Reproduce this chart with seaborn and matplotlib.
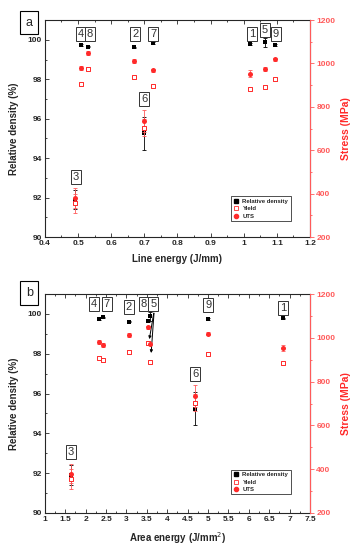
import numpy as np
import pandas as pd
import matplotlib
matplotlib.use("Agg")
import matplotlib.pyplot as plt
from matplotlib.ticker import MultipleLocator, FuncFormatter
from matplotlib.lines import Line2D
import seaborn as sns

# sample data (samples 1..9)
samples = ["1", "2", "3", "4", "5", "6", "7", "8", "9"]
line_energy = [1.02, 0.67, 0.49, 0.51, 1.065, 0.70, 0.725, 0.53, 1.095]
area_energy = [6.83, 3.06, 1.64, 2.33, 3.58, 4.68, 2.43, 3.53, 5.00]
rel_density = [99.78, 99.62, 91.9, 99.75, 99.88, 95.25, 99.83, 99.65, 99.75]
rel_density_err = [0.04, 0.04, 0.5, 0.04, 0.22, 0.85, 0.04, 0.04, 0.04]
yield_stress = [883, 936, 355, 907, 890, 704, 897, 976, 927]
yield_err = [5, 8, 45, 5, 5, 40, 5, 8, 8]
uts = [953, 1012, 380, 980, 974, 735, 968, 1048, 1019]
uts_err = [15, 10, 45, 8, 8, 50, 8, 8, 8]

# label box positions (x, y on density axis)
labels_a = {"4": (0.509, 100.3), "8": (0.536, 100.3), "2": (0.673, 100.3),
            "7": (0.727, 100.3), "1": (1.025, 100.3), "5": (1.064, 100.5),
            "9": (1.097, 100.3), "6": (0.70, 97.0), "3": (0.494, 93.05)}
labels_b = {"4": (2.2, 100.5), "7": (2.52, 100.5), "2": (3.06, 100.33),
            "8": (3.43, 100.48), "5": (3.66, 100.48), "9": (5.0, 100.43),
            "1": (6.83, 100.3), "6": (4.68, 96.97), "3": (1.64, 93.05)}

df = pd.DataFrame({"sample": samples, "line": line_energy, "area": area_energy,
                   "rd": rel_density, "rd_err": rel_density_err,
                   "ys": yield_stress, "ys_err": yield_err,
                   "uts": uts, "uts_err": uts_err})

sns.set_style("ticks")
plt.rcParams['font.family'] = ['Liberation Sans', 'DejaVu Sans']

RED = "#ff2a2a"
LRED = "#ff5a5a"

fig = plt.figure(figsize=(3.56, 5.5), dpi=100)
ax_a = fig.add_axes([0.126, 0.569, 0.745, 0.3945])
ax_b = fig.add_axes([0.126, 0.0673, 0.745, 0.398])


def draw_panel(ax, xcol, xlim, xmajor, xlabel, labels, letter, letter_y, legend_y):
    ax2 = ax.twinx()
    x = df[xcol]
    # density
    ax.errorbar(x, df["rd"], yerr=df["rd_err"], fmt="none", ecolor="black",
                elinewidth=0.6, capsize=1.5, capthick=0.6, zorder=2)
    sns.scatterplot(x=x, y=df["rd"], ax=ax, marker="s", color="black", s=10,
                    linewidth=0, zorder=3)
    # stresses
    ax2.errorbar(x, df["ys"], yerr=df["ys_err"], fmt="none", ecolor=LRED,
                 elinewidth=0.6, capsize=1.5, capthick=0.6, zorder=2)
    ax2.errorbar(x, df["uts"], yerr=df["uts_err"], fmt="none", ecolor=LRED,
                 elinewidth=0.6, capsize=1.5, capthick=0.6, zorder=2)
    sns.scatterplot(x=x, y=df["ys"], ax=ax2, marker="s", color="white",
                    edgecolor=RED, linewidth=0.7, s=10, zorder=3)
    sns.scatterplot(x=x, y=df["uts"], ax=ax2, marker="o", color=RED, s=13,
                    linewidth=0, zorder=3)

    ax.set_xlim(*xlim)
    ax.set_ylim(90, 101)
    ax2.set_ylim(200, 1200)
    ax.xaxis.set_major_locator(MultipleLocator(xmajor))
    ax.xaxis.set_minor_locator(MultipleLocator(xmajor / 2))
    ax.xaxis.set_major_formatter(FuncFormatter(lambda v, p: f"{v:g}"))
    ax.yaxis.set_major_locator(MultipleLocator(2))
    ax.yaxis.set_minor_locator(MultipleLocator(1))
    ax2.yaxis.set_major_locator(MultipleLocator(200))
    ax2.yaxis.set_minor_locator(MultipleLocator(100))

    ax.tick_params(axis="x", which="both", direction="in", top=True,
                   labelsize=6, width=0.6, pad=2)
    ax.tick_params(axis="x", which="major", length=3)
    ax.tick_params(axis="x", which="minor", length=1.5)
    ax.tick_params(axis="y", which="both", direction="in", labelsize=6,
                   width=0.6, pad=2)
    ax.tick_params(axis="y", which="major", length=3)
    ax.tick_params(axis="y", which="minor", length=1.5)
    ax2.tick_params(axis="y", which="both", direction="out", colors=LRED,
                    labelsize=6, width=0.6, pad=1.5)
    ax2.tick_params(axis="y", which="major", length=3)
    ax2.tick_params(axis="y", which="minor", length=1.5)
    for lab in ax.get_xticklabels() + ax.get_yticklabels():
        lab.set_fontweight("bold")
    for lab in ax2.get_yticklabels():
        lab.set_fontweight("bold")
    for sp in ax.spines.values():
        sp.set_linewidth(0.8)
    for name, sp in ax2.spines.items():
        sp.set_linewidth(0.8)
        sp.set_visible(name == "right")
    ax2.spines["right"].set_color(LRED)

    ax.set_xlabel(xlabel, fontsize=7, fontweight="bold", labelpad=5)
    ax.set_ylabel("Relative density (%)", fontsize=7, fontweight="bold", labelpad=6)
    ax2.set_ylabel("Stress (MPa)", fontsize=7.5, fontweight="bold", color=RED,
                   labelpad=4)

    # sample number boxes
    for name, (lx, ly) in labels.items():
        ax2.text(lx, ax2.transData.inverted().transform(
            ax.transData.transform((lx, ly)))[1], name, ha="center", va="center",
            fontsize=8, color="#333333", zorder=6,
            bbox=dict(boxstyle="square,pad=0.18", facecolor="white",
                      edgecolor="#333333", linewidth=0.7))

    fig.text(0.082, letter_y, letter, ha="center", va="center", fontsize=9,
             bbox=dict(boxstyle="square,pad=0.45", facecolor="white",
                       edgecolor="black", linewidth=0.8))

    handles = [Line2D([], [], marker="s", color="black", linestyle="none",
                      markersize=2.5),
               Line2D([], [], marker="s", markerfacecolor="white",
                      markeredgecolor=RED, color=RED, linestyle="none",
                      markersize=3, markeredgewidth=0.6),
               Line2D([], [], marker="o", color=RED, linestyle="none",
                      markersize=3)]
    leg = ax2.legend(handles, ["Relative density", "Yield", "UTS"],
                     loc="lower left", bbox_to_anchor=(0.70, legend_y),
                     fontsize=4.3, frameon=True, fancybox=False,
                     borderpad=0.4, labelspacing=0.35, handletextpad=0.6,
                     handlelength=1.0, borderaxespad=0)
    leg.get_frame().set_edgecolor("black")
    leg.get_frame().set_linewidth(0.6)
    for t in leg.get_texts():
        t.set_fontweight("bold")
    return ax2


draw_panel(ax_a, "line", (0.4, 1.2), 0.1, "Line energy (J/mm)", labels_a,
           "a", 1 - 22.5 / 550, 0.074)
ax2_b = draw_panel(ax_b, "area", (1, 7.5), 0.5, "Area energy (J/mm$^2$)",
                   labels_b, "b", 1 - 293 / 550, 0.085)

# arrows from label 5 in panel b
lab5 = labels_b["5"]
for target in [(3.55, 98.6), (3.6, 97.9)]:
    ax_b.annotate("", xy=target, xytext=(lab5[0] + 0.02, lab5[1] - 0.3),
                  arrowprops=dict(arrowstyle="-|>", color="black", lw=0.7,
                                  mutation_scale=4), zorder=7)

fig.savefig("out.png", dpi=100)
